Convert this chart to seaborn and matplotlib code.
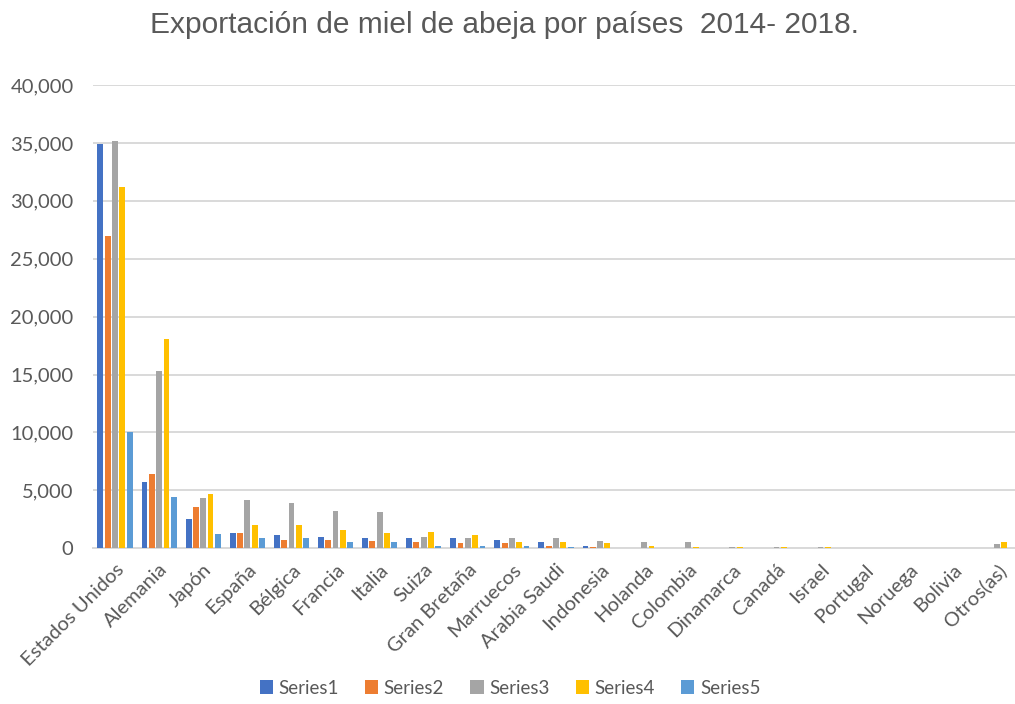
import matplotlib
matplotlib.use("Agg")
import matplotlib.pyplot as plt
import seaborn as sns
import pandas as pd
from matplotlib.ticker import FuncFormatter

paises = ["Estados Unidos", "Alemania", "Japón", "España", "Bélgica", "Francia",
          "Italia", "Suiza", "Gran Bretaña", "Marruecos", "Arabia Saudi", "Indonesia",
          "Holanda", "Colombia", "Dinamarca", "Canadá", "Israel", "Portugal",
          "Noruega", "Bolivia", "Otros(as)"]

series1 = [34900, 5700, 2500, 1300, 1150, 950, 860, 860, 860, 740, 540, 220,
           0, 0, 0, 0, 0, 0, 0, 0, 0]
series2 = [27000, 6450, 3550, 1300, 740, 740, 630, 520, 430, 430, 220, 110,
           0, 0, 0, 0, 0, 0, 0, 0, 0]
series3 = [35200, 15300, 4350, 4200, 3900, 3250, 3150, 950, 860, 860, 860, 630,
           540, 540, 110, 110, 110, 0, 0, 0, 350]
series4 = [31200, 18100, 4700, 2000, 2000, 1600, 1350, 1400, 1150, 540, 540, 430,
           220, 110, 110, 110, 80, 0, 0, 0, 540]
series5 = [10000, 4400, 1260, 860, 860, 520, 520, 220, 220, 220, 110, 0,
           0, 0, 0, 0, 0, 0, 0, 0, 0]

nombres = ["Series1", "Series2", "Series3", "Series4", "Series5"]
colores = ["#4472C4", "#ED7D31", "#A5A5A5", "#FFC000", "#5B9BD5"]

filas = []
for nombre, valores in zip(nombres, [series1, series2, series3, series4, series5]):
    for pais, v in zip(paises, valores):
        filas.append({"pais": pais, "serie": nombre, "valor": v})
df = pd.DataFrame(filas)

sns.set_theme(style="white")
plt.rcParams["font.family"] = ["Lato", "DejaVu Sans"]

fig = plt.figure(figsize=(10.15, 7.04), dpi=100)
ax = fig.add_axes([93 / 1015, (704 - 548.3) / 704, 926 / 1015, (548.3 - 85) / 704])

sns.barplot(data=df, x="pais", y="valor", hue="serie", hue_order=nombres,
            palette=colores, order=paises, width=0.83, gap=0.2,
            saturation=1, errorbar=None, ax=ax, legend=True, zorder=3,
            linewidth=0, edgecolor="none")

ax.set_xlim(-0.5, len(paises) - 0.5)
ax.set_ylim(0, 40000)
ax.set_yticks(range(0, 40001, 5000))
ax.yaxis.set_major_formatter(FuncFormatter(lambda v, p: f"{int(v):,}"))
ax.grid(axis="y", color="#D9D9D9", linewidth=1.4, zorder=0)
ax.set_axisbelow(True)
for s in ["top", "right", "left"]:
    ax.spines[s].set_visible(False)
ax.spines["bottom"].set_color("#D9D9D9")
ax.spines["bottom"].set_linewidth(1.4)
ax.set_xlabel("")
ax.set_ylabel("")
ax.tick_params(axis="both", length=0, colors="#595959", labelsize=14.5)
ax.tick_params(axis="y", labelsize=14.5, pad=14)
plt.setp(ax.get_xticklabels(), rotation=45, ha="right", rotation_mode="anchor")
ax.tick_params(axis="x", pad=9)

fig.text(505 / 1015, 1 - 25 / 704, "Exportación de miel de abeja por países  2014- 2018.",
         ha="center", va="center", fontsize=21.5, color="#595959",
         family=["Liberation Sans", "DejaVu Sans"])

handles, labels = ax.get_legend_handles_labels()
ax.legend(handles, labels, loc="center", bbox_to_anchor=(510 / 1015, (704 - 688) / 704),
          bbox_transform=fig.transFigure, ncol=5, frameon=False, fontsize=13.5,
          handlelength=0.7, handleheight=0.7, handletextpad=0.3, columnspacing=1.4,
          labelcolor="#595959")

fig.savefig("out.png", dpi=100)
